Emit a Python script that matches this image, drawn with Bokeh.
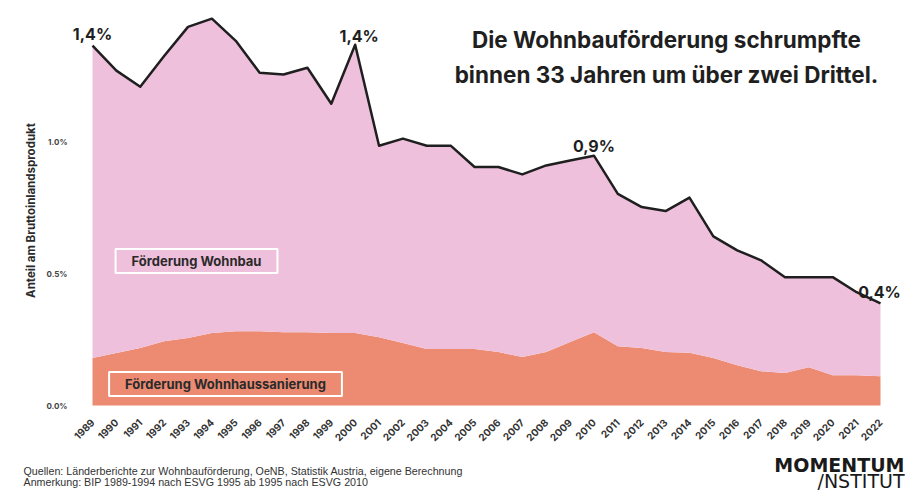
from math import pi
from bokeh.plotting import figure
from bokeh.models import Range1d, FixedTicker, Label, ColumnDataSource
from bokeh.embed import file_html
from bokeh.resources import INLINE

# ---- data (share of GDP, in %) ----
years = list(range(1989, 2023))
gesamt = [1.366, 1.271, 1.210, 1.326, 1.437, 1.468, 1.384, 1.263, 1.256, 1.282,
          1.145, 1.369, 0.986, 1.013, 0.986, 0.986, 0.905, 0.905, 0.877, 0.911,
          0.930, 0.948, 0.803, 0.753, 0.738, 0.789, 0.642, 0.589, 0.551, 0.487,
          0.487, 0.487, 0.430, 0.388]
sanierung = [0.180, 0.199, 0.218, 0.244, 0.256, 0.275, 0.282, 0.282, 0.278, 0.278,
             0.275, 0.275, 0.259, 0.237, 0.214, 0.214, 0.214, 0.203, 0.184, 0.203,
             0.241, 0.278, 0.225, 0.218, 0.203, 0.200, 0.180, 0.153, 0.130, 0.123,
             0.145, 0.115, 0.115, 0.111]
y_ticks = [0.0, 0.5, 1.0]
y_tick_labels = ["0.0%", "0.5%", "1.0%"]
x_tick_labels = [str(y) for y in years]
y_axis_title = "Anteil am Bruttoinlandsprodukt"
highlight_years = [1989, 2000, 2010, 2022]
highlight_texts = ["1,4%", "1,4%", "0,9%", "0,4%"]
series_names = ["Förderung Wohnbau", "Förderung Wohnhaussanierung"]
title_lines = ["Die Wohnbauförderung schrumpfte", "binnen 33 Jahren um über zwei Drittel."]
footer_lines = ["Quellen: Länderberichte zur Wohnbauförderung, OeNB, Statistik Austria, eigene Berechnung",
                "Anmerkung: BIP 1989-1994 nach ESVG 1995 ab 1995 nach ESVG 2010"]
logo_lines = ["MOMENTUM", "/NSTITUT"]

PINK = "#EFC0DC"
ORANGE = "#EC8B72"
DARK = "#1f1f1f"
FONT = "Inter"

W, H = 906, 491
src = ColumnDataSource(dict(year=years, gesamt=gesamt, sanierung=sanierung))

# whole canvas is the frame; 1989 -> page x 92, 2022 -> x 880, 0 % -> page y 405
PX_PER_YEAR = (880 - 92) / (years[-1] - years[0])
PX_PER_PCT = 263.5
x_start = years[0] - 92 / PX_PER_YEAR
x_end = years[-1] + (W - 880) / PX_PER_YEAR
y_start = -(H - 405) / PX_PER_PCT
y_end = 405 / PX_PER_PCT

p = figure(width=W, height=H, output_backend="svg", toolbar_location=None,
           x_range=Range1d(x_start, x_end), y_range=Range1d(y_start, y_end),
           min_border_left=0, min_border_right=0, min_border_top=0, min_border_bottom=0)
p.outline_line_color = None
p.grid.visible = False

p.varea(x="year", y1=0, y2="sanierung", source=src, fill_color=ORANGE)
p.varea(x="year", y1="sanierung", y2="gesamt", source=src, fill_color=PINK)
p.line(x="year", y="gesamt", source=src, line_color=DARK, line_width=2.5, line_join="round")

# x axis (drawn at y = 0)
xa = p.xaxis[0]
xa.fixed_location = 0
xa.ticker = FixedTicker(ticks=years)
xa.major_label_overrides = {y: l for y, l in zip(years, x_tick_labels)}
xa.major_label_orientation = pi / 4
xa.axis_line_color = None
xa.major_tick_line_color = None
xa.minor_tick_line_color = None
xa.major_tick_out = 0
xa.minor_tick_out = 0
xa.major_label_text_font = FONT
xa.major_label_text_font_size = "10px"
xa.major_label_text_font_style = "bold"
xa.major_label_text_color = "#333333"
xa.major_label_standoff = 15

# y axis (drawn at page x 68)
ya = p.yaxis[0]
ya.fixed_location = years[0] - (92 - 68) / PX_PER_YEAR
ya.ticker = FixedTicker(ticks=y_ticks)
ya.major_label_overrides = {t: l for t, l in zip(y_ticks, y_tick_labels)}
ya.axis_line_color = None
ya.major_tick_line_color = None
ya.minor_tick_line_color = None
ya.major_tick_out = 0
ya.minor_tick_out = 0
ya.major_label_text_font = FONT
ya.major_label_text_font_size = "8px"
ya.major_label_text_font_style = "bold"
ya.major_label_text_color = "#444444"
ya.major_label_standoff = 1

# highlight values
offs = {1989: (0, 12), 2000: (4, 9), 2010: (0, 10), 2022: (-1, 11)}
for yr, txt in zip(highlight_years, highlight_texts):
    v = gesamt[years.index(yr)]
    dx, dy = offs[yr]
    p.add_layout(Label(x=yr, y=v, text=txt, x_offset=dx, y_offset=dy,
                       text_align="center", text_baseline="alphabetic",
                       text_font=FONT, text_font_size="16px", text_font_style="bold",
                       text_color=DARK))

# page coords -> screen coords (frame == canvas)
def sx(px):
    return px

def sy(py):
    return H - py

def screen_label(px, py, text, **kw):
    p.add_layout(Label(x=sx(px), y=sy(py), x_units="screen", y_units="screen",
                       text=text, text_baseline="middle", **kw))

# y axis title (rotated)
screen_label(30, 210, y_axis_title, angle=pi / 2, text_align="center", text_font=FONT,
             text_font_size="11.5px", text_font_style="bold", text_color="#2a2a2a")

# title
for line, py in zip(title_lines, [39, 74]):
    screen_label(666, py, line, text_align="center", text_font=FONT,
                 text_font_size="22.5px", text_font_style="bold", text_color=DARK)

# series name boxes
for name, (cx, cy), fill in zip(series_names, [(196, 260.5), (225, 383.5)], [PINK, ORANGE]):
    screen_label(cx, cy, name, text_align="center", text_font=FONT,
                 text_font_size="13px", text_font_style="bold", text_color="#2a2a2a",
                 background_fill_color=fill, border_line_color="white",
                 border_line_width=2, padding=(16, 4))

# footer
for line, py in zip(footer_lines, [470, 481]):
    screen_label(23, py, line, text_align="left", text_font="Liberation Sans",
                 text_font_size="10.7px", text_color="#333333")

# logo
screen_label(904, 464, logo_lines[0], text_align="right", text_font="DejaVu Sans",
             text_font_size="19px", text_font_style="bold", text_color="#1a1a1a")
screen_label(904, 480, logo_lines[1], text_align="right", text_font="DejaVu Sans",
             text_font_size="19px", text_color="#1a1a1a")

open("out.html", "w").write(file_html(p, INLINE))
